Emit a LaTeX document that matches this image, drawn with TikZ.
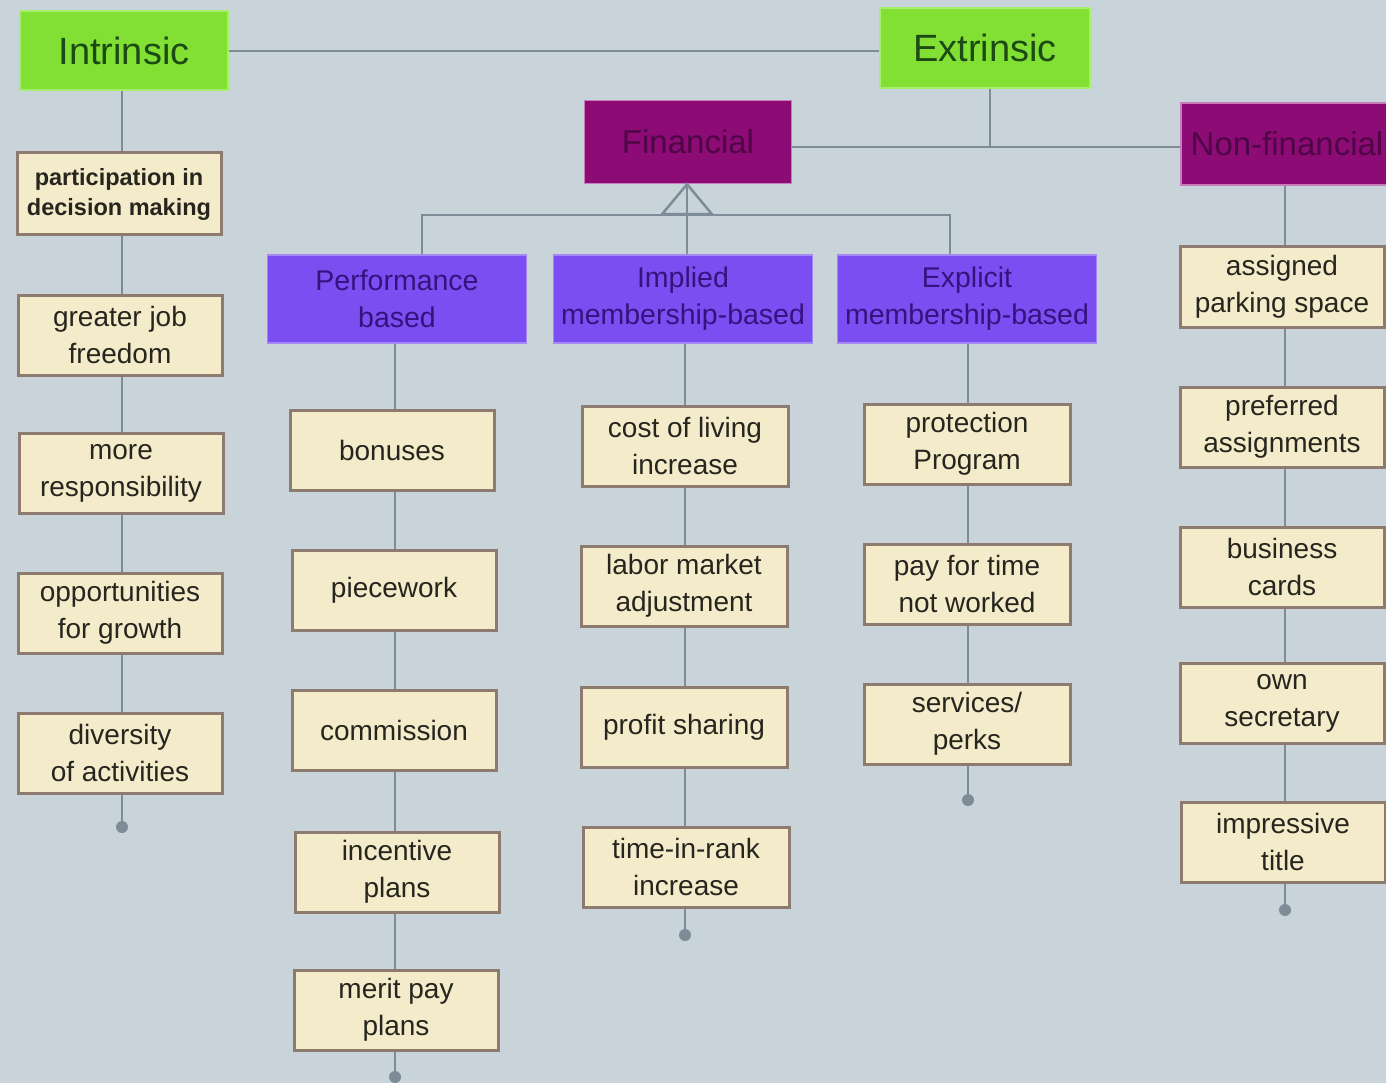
\documentclass[tikz,border=0pt]{standalone}
\usepackage{fontspec}
\setmainfont{Liberation Sans}
\usetikzlibrary{backgrounds}
\definecolor{bg}{HTML}{C8D3DA}
\definecolor{wire}{HTML}{7D8C97}
\definecolor{topfill}{HTML}{82E034}
\definecolor{topedge}{HTML}{A6EE6E}
\definecolor{toptext}{HTML}{1C4A14}
\definecolor{finfill}{HTML}{8C0B74}
\definecolor{finedge}{HTML}{C77DBA}
\definecolor{fintext}{HTML}{4E0746}
\definecolor{kindfill}{HTML}{7B4EF2}
\definecolor{kindedge}{HTML}{A488F6}
\definecolor{kindtext}{HTML}{35137E}
\definecolor{leaffill}{HTML}{F4EBCB}
\definecolor{leafedge}{HTML}{8C7B6E}
\definecolor{leaftext}{HTML}{27261E}
\tikzset{
  topbox/.style={draw=topedge, line width=2pt, fill=topfill, text=toptext,
    minimum width=208, minimum height=79, inner sep=0pt,
    font=\fontsize{38}{44}\selectfont},
  finbox/.style={draw=finedge, line width=1.5pt, fill=finfill, text=fintext,
    minimum width=207, minimum height=83, inner sep=0pt,
    font=\fontsize{33}{40}\selectfont},
  kindbox/.style={draw=kindedge, line width=1.5pt, fill=kindfill, text=kindtext,
    minimum width=259, minimum height=88, inner sep=0pt, align=center,
    font=\fontsize{28.5}{37}\selectfont},
  leaf/.style={draw=leafedge, line width=3pt, fill=leaffill, text=leaftext,
    minimum width=204, minimum height=80, inner sep=0pt, align=center,
    font=\fontsize{28}{37}\selectfont},
  wirestyle/.style={draw=wire, line width=2.5pt},
  enddot/.style={circle, fill=wire, draw=none, minimum size=12, inner sep=0pt},
}
\begin{document}
\begin{tikzpicture}[x=1pt, y=-1pt]
  \useasboundingbox (0,0) rectangle (1386,1083);
  \clip (0,0) rectangle (1386,1083);
  \begin{scope}[on background layer]
    \fill[bg] (0,0) rectangle (1386,1083);
  \end{scope}

  % top level
  \node[topbox] (intr) at (124,51) {Intrinsic};
  \node[topbox, minimum width=210, minimum height=80] (extr) at (985,48) {Extrinsic};

  % extrinsic branches
  \node[finbox] (fin) at (688,142) {Financial};
  \node[finbox, minimum width=212, minimum height=82] (nonfin) at (1287,144) {Non-financial};

  % kinds of financial rewards
  \node[kindbox] (perf) at (397,299) {Performance\\based};
  \node[kindbox] (impl) at (683,299) {Implied\\membership-based};
  \node[kindbox] (expl) at (967,299) {Explicit\\membership-based};

  % intrinsic rewards
  \node[leaf, font=\bfseries\fontsize{23.5}{30}\selectfont, minimum height=82] (ip) at (119,194) {participation in\\decision making};
  \node[leaf] (ig) at (120,335) {greater job\\freedom};
  \node[leaf] (im) at (121,473) {more\\responsibility};
  \node[leaf] (io) at (120,613) {opportunities\\for growth};
  \node[leaf] (id) at (120,753) {diversity\\of activities};
  \node[enddot] (iend) at (122,827) {};

  % performance based
  \node[leaf] (pb) at (392,450) {bonuses};
  \node[leaf] (pp) at (394,590) {piecework};
  \node[leaf] (pc) at (394,730) {commission};
  \node[leaf] (pi) at (397,872) {incentive\\plans};
  \node[leaf] (pm) at (396,1010) {merit pay\\plans};
  \node[enddot] (pend) at (395,1077) {};

  % implied membership-based
  \node[leaf, minimum width=206] (mc) at (685,446) {cost of living\\increase};
  \node[leaf, minimum width=206] (ml) at (684,586) {labor market\\adjustment};
  \node[leaf, minimum width=206] (mp) at (684,727) {profit sharing};
  \node[leaf, minimum width=206] (mt) at (686,867) {time-in-rank\\increase};
  \node[enddot] (mend) at (685,935) {};

  % explicit membership-based
  \node[leaf, minimum width=206] (ep) at (967,444) {protection\\Program};
  \node[leaf, minimum width=206] (et) at (967,584) {pay for time\\not worked};
  \node[leaf, minimum width=206] (es) at (967,724) {services/\\perks};
  \node[enddot] (eend) at (968,800) {};

  % non-financial
  \node[leaf] (na) at (1282,287) {assigned\\parking space};
  \node[leaf] (np) at (1282,427) {preferred\\assignments};
  \node[leaf] (nb) at (1282,567) {business\\cards};
  \node[leaf] (no) at (1282,703) {own\\secretary};
  \node[leaf] (ni) at (1283,842) {impressive\\title};
  \node[enddot] (nend) at (1285,910) {};

  % junction points
  \coordinate (ej) at (990,147);
  \coordinate (jl) at (422,215);
  \coordinate (jm) at (687,215);
  \coordinate (jr) at (950,215);

  % connectors between the headings
  \draw[wirestyle] (intr.east) -- (extr.west |- intr.east);
  \draw[wirestyle] (fin.east |- ej) -- (nonfin.west |- ej);
  \draw[wirestyle] (extr.south -| ej) -- (ej);
  \draw[wirestyle] (perf.north -| jl) -- (jl) -- (jr) -- (expl.north -| jr);
  \draw[wirestyle] (impl.north -| jm) -- (fin.south -| jm);
  \draw[wirestyle, line join=miter] (fin.south -| jm) -- ++(-25,30) -- ++(50,0) -- cycle;

  % column spines, running behind the boxes down to their end dots
  \begin{scope}[on background layer]
    \draw[wirestyle] (intr.south -| iend) -- (iend);
    \draw[wirestyle] (perf.south -| pend) -- (pend);
    \draw[wirestyle] (impl.south -| mend) -- (mend);
    \draw[wirestyle] (expl.south -| eend) -- (eend);
    \draw[wirestyle] (nonfin.south -| nend) -- (nend);
  \end{scope}
\end{tikzpicture}
\end{document}
